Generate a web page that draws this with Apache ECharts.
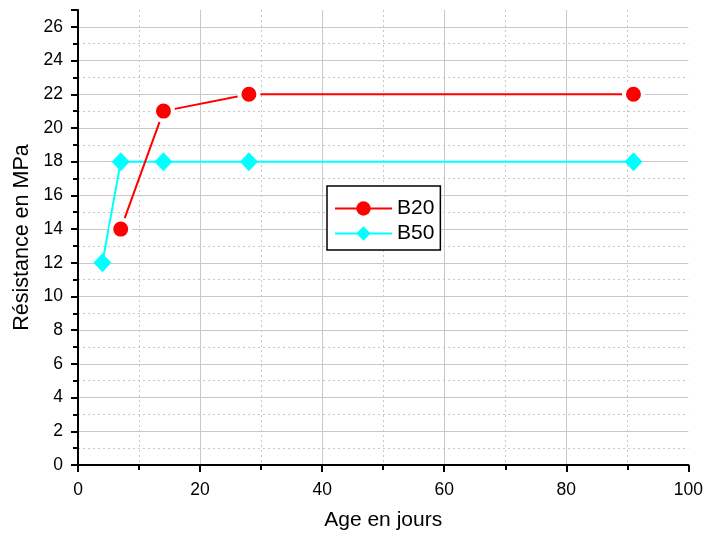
<!DOCTYPE html>
<html><head><meta charset="utf-8">
<script src="https://cdn.jsdelivr.net/npm/echarts@6/dist/echarts.min.js"></script>
<style>html,body{margin:0;padding:0;background:#fff}#c{width:706px;height:538px}</style>
</head><body><div id="c"></div>
<script>
const b20Days = [7, 14, 28, 91];
const b20Values = [14, 21, 22, 22];
const b50Days = [4, 7, 14, 28, 91];
const b50Values = [12, 18, 18, 18, 18];
const xTitle = 'Age en jours';
const yTitle = 'Résistance en MPa';
const seriesNames = ['B20', 'B50'];

const zip = (a, b) => a.map((v, i) => [v, b[i]]);
const font = 'Liberation Sans, Arial, sans-serif';
const chart = echarts.init(document.getElementById('c'), null, {renderer: 'canvas'});
chart.setOption({
  animation: false,
  backgroundColor: '#fff',
  grid: {left: 78, right: 17, top: 10, bottom: 73, containLabel: false},
  xAxis: {
    type: 'value', min: 0, max: 100, interval: 20,
    name: xTitle, nameLocation: 'middle', nameGap: 45,
    nameTextStyle: {fontFamily: font, fontSize: 21, color: '#000'},
    axisLine: {show: true, onZero: false, lineStyle: {color: '#000', width: 2}},
    axisTick: {show: true, inside: false, length: 7, lineStyle: {color: '#000', width: 2}},
    minorTick: {show: true, splitNumber: 2, length: 5, lineStyle: {color: '#000', width: 2}},
    axisLabel: {fontFamily: font, fontSize: 17.5, color: '#000', margin: 16},
    splitLine: {show: true, showMinLine: false, showMaxLine: false, lineStyle: {color: '#c8c8c8', width: 1}},
    minorSplitLine: {show: true, lineStyle: {color: '#c8c8c8', width: 1, type: [2, 3]}}
  },
  yAxis: {
    type: 'value', min: 0, max: 27, interval: 2,
    name: yTitle, nameLocation: 'middle', nameGap: 45, nameRotate: 90,
    nameTextStyle: {fontFamily: font, fontSize: 21.5, color: '#000'},
    axisLine: {show: true, onZero: false, lineStyle: {color: '#000', width: 2}},
    axisTick: {show: true, inside: false, length: 7, lineStyle: {color: '#000', width: 2}},
    minorTick: {show: true, splitNumber: 2, length: 5, lineStyle: {color: '#000', width: 2}},
    axisLabel: {fontFamily: font, fontSize: 17.5, color: '#000', margin: 15, showMaxLabel: false,
      formatter: v => (v % 2 === 0 ? String(v) : '')},
    splitLine: {show: true, showMinLine: false, showMaxLine: false, lineStyle: {color: '#c8c8c8', width: 1}},
    minorSplitLine: {show: true, lineStyle: {color: '#c8c8c8', width: 1, type: [2, 3]}}
  },
  legend: {
    show: true, left: 327, top: 186, orient: 'vertical',
    padding: [12, 6, 6, 7], itemGap: 4,
    borderColor: '#000', borderWidth: 1.5, backgroundColor: '#fff',
    itemWidth: 57, itemHeight: 18,
    itemStyle: {borderWidth: 0},
    textStyle: {fontFamily: font, fontSize: 21, lineHeight: 21, color: '#000'},
    data: seriesNames
  },
  series: [
    {
      name: seriesNames[0], type: 'line', data: zip(b20Days, b20Values),
      symbol: 'circle', symbolSize: 19,
      lineStyle: {color: '#ff0000', width: 2},
      itemStyle: {color: '#ff0000', borderColor: '#ffffff', borderWidth: 4}, z: 3
    },
    {
      name: seriesNames[1], type: 'line', data: zip(b50Days, b50Values),
      symbol: 'diamond', symbolSize: [18, 19],
      lineStyle: {color: '#00ffff', width: 2},
      itemStyle: {color: '#00ffff'}, z: 2
    }
  ]
});
</script></body></html>
